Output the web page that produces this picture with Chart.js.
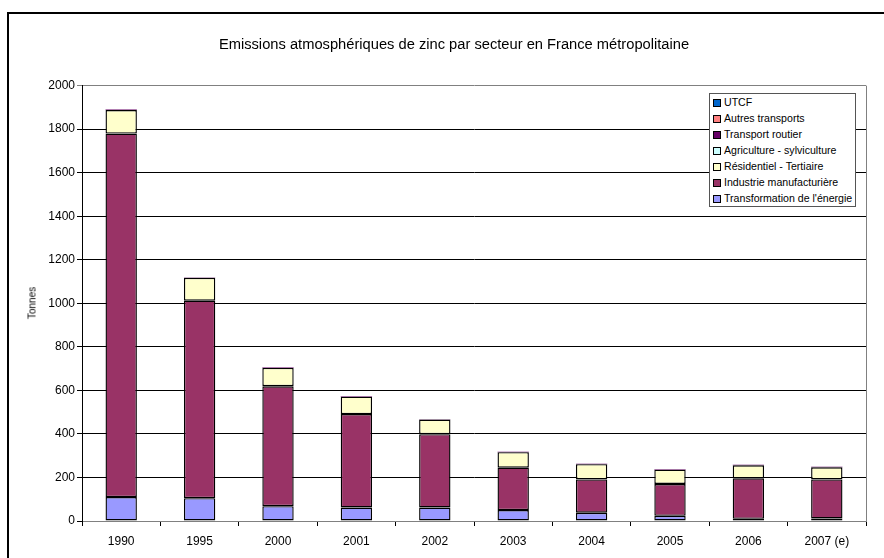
<!DOCTYPE html>
<html>
<head>
<meta charset="utf-8">
<title>Emissions atmosphériques de zinc</title>
<script src="https://cdn.jsdelivr.net/npm/chart.js@4/dist/chart.umd.min.js"></script>
<style>
  body { margin: 0; overflow: hidden; background: #fff; font-family: "Liberation Sans", Arial, sans-serif; }
  #wrap { position: relative; width: 884px; height: 558px; overflow: hidden; }
  #frame { position: absolute; left: 7px; top: 12px; width: 1000px; height: 1000px; border: 2px solid #000; }
  canvas { position: absolute; left: 0; top: 0; }
  #yTitle { position: absolute; left: 32px; top: 303px; font-size: 10px; transform: translate(-50%, -50%) rotate(-90deg); white-space: nowrap; }
  #legend { position: absolute; left: 709px; top: 93px; width: 145px; height: 112px; border: 1px solid #555; background: #fff; font-size: 10.6px; }
  #legend div { height: 16px; line-height: 16px; white-space: nowrap; }
  #legend span { display: inline-block; width: 6px; height: 6px; border: 1px solid #000; margin: 0 3px 0 3px; vertical-align: -1px; }
</style>
</head>
<body>
<div id="wrap">
  <div id="frame"></div>
  <canvas id="barChart" width="884" height="558"></canvas>
  <div id="yTitle">Tonnes</div>
  <div id="legend"></div>
</div>
<script>
// Years on the x axis
const years = ['1990', '1995', '2000', '2001', '2002', '2003', '2004', '2005', '2006', '2007 (e)'];

// Emissions per sector, in tonnes
const transformation = [110, 105, 68, 62, 62, 50, 38, 24, 10, 12];
const industrie = [1670, 907, 551, 429, 337, 195, 153, 146, 186, 179];
const residentiel = [108, 105, 84, 80, 67, 71, 70, 66, 60, 56];
const agriculture = [0, 0, 0, 0, 0, 0, 0, 0, 0, 0];
const transportRoutier = [2, 2, 2, 2, 2, 2, 2, 2, 2, 2];
const autresTransports = [0, 0, 0, 0, 0, 0, 0, 0, 0, 0];
const utcf = [0, 0, 0, 0, 0, 0, 0, 0, 0, 0];

// y axis ticks
const yMin = 0;
const yMax = 2000;
const yStep = 200;

// Draws the grey right edge of the plot area
const plotBorder = {
    id: 'plotBorder',
    afterDraw(chart) {
        const { ctx, chartArea } = chart;
        ctx.save();
        ctx.strokeStyle = '#808080';
        ctx.lineWidth = 1;
        ctx.beginPath();
        ctx.moveTo(Math.round(chartArea.right) + 0.5, chartArea.top);
        ctx.lineTo(Math.round(chartArea.right) + 0.5, chartArea.bottom);
        ctx.stroke();
        ctx.restore();
    }
};

function dataset(label, data, color, border) {
    return {
        label: label,
        data: data,
        backgroundColor: color,
        borderColor: '#000',
        borderWidth: border,
        borderSkipped: false,
        barPercentage: 0.4,
        categoryPercentage: 1
    };
}

const chart = new Chart(
    document.getElementById('barChart'),
    {
        type: 'bar',
        data: {
            labels: years,
            datasets: [
                dataset("Transformation de l'énergie", transformation, '#9999FF', 1.4),
                dataset('Industrie manufacturière', industrie, '#993366', 1.4),
                dataset('Résidentiel - Tertiaire', residentiel, '#FFFFCC', 1.4),
                dataset('Agriculture - sylviculture', agriculture, '#CCFFFF', 0),
                dataset('Transport routier', transportRoutier, '#660066', 0),
                dataset('Autres transports', autresTransports, '#FF8080', 0),
                dataset('UTCF', utcf, '#0066CC', 0)
            ]
        },
        options: {
            responsive: false,
            animation: false,
            devicePixelRatio: 1,
            layout: { padding: { left: 42, right: 18, top: 36, bottom: 0 } },
            plugins: {
                legend: { display: false },
                tooltip: { enabled: false },
                title: {
                    display: true,
                    text: 'Emissions atmosphériques de zinc par secteur en France métropolitaine',
                    color: '#000',
                    font: { family: '"Liberation Sans", Arial', size: 14.7, weight: 'normal' },
                    padding: { top: 0, bottom: 32 }
                }
            },
            scales: {
                x: {
                    stacked: true,
                    afterFit(scale) { scale.height = 37; },
                    grid: { display: true, drawOnChartArea: false, offset: true, tickLength: 5, color: '#000' },
                    border: { color: '#808080' },
                    ticks: { color: '#000', padding: 8, font: { family: '"Liberation Sans", Arial', size: 12 } }
                },
                y: {
                    stacked: true,
                    min: yMin,
                    max: yMax,
                    afterFit(scale) { scale.width = 40; },
                    grid: {
                        tickLength: 5,
                        color: ctx => (ctx.tick && ctx.tick.value === yMax) ? '#808080' : '#000'
                    },
                    border: { color: '#000' },
                    ticks: {
                        stepSize: yStep,
                        color: '#000',
                        padding: 2,
                        callback: v => String(v),
                        font: { family: '"Liberation Sans", Arial', size: 12 }
                    }
                }
            }
        },
        plugins: [plotBorder]
    }
);

// Legend box inside the plot, built from the datasets (top of stack first)
const legend = document.getElementById('legend');
chart.data.datasets.slice().reverse().forEach(ds => {
    const row = document.createElement('div');
    const sw = document.createElement('span');
    sw.style.background = ds.backgroundColor;
    row.appendChild(sw);
    row.appendChild(document.createTextNode(ds.label));
    legend.appendChild(row);
});
</script>
</body>
</html>
